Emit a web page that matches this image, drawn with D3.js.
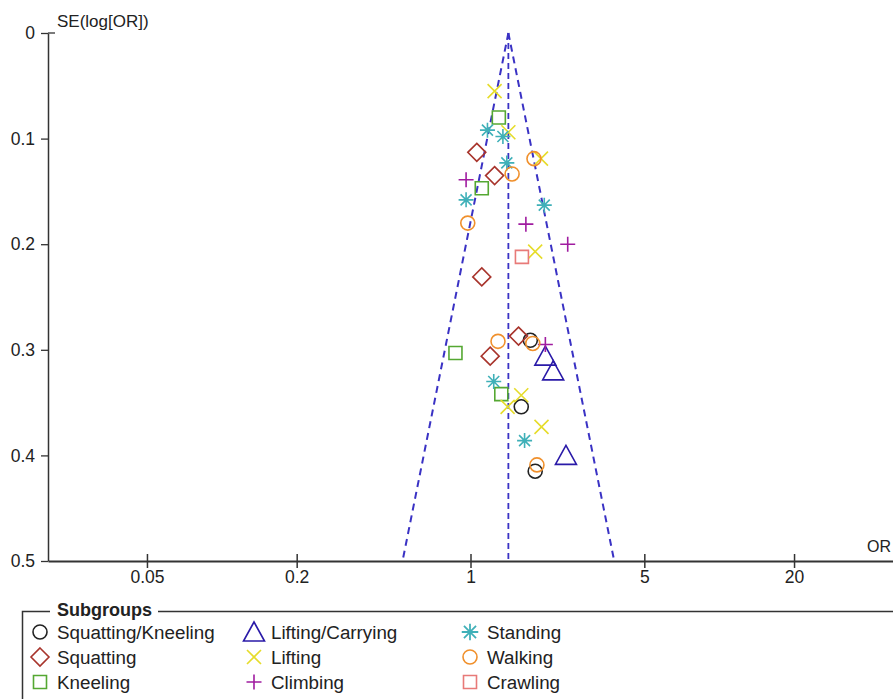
<!DOCTYPE html>
<html>
<head>
<meta charset="utf-8">
<script src="https://cdn.jsdelivr.net/npm/d3@7"></script>
<style>
  html, body { margin: 0; padding: 0; background: #fff; }
  svg { display: block; font-family: "Liberation Sans", Arial, sans-serif; }
</style>
</head>
<body>
<svg id="chart" width="893" height="699"></svg>
<script>
// ---------- data ----------
const xTicks = [0.05, 0.2, 1, 5, 20];
const yTicks = [0, 0.1, 0.2, 0.3, 0.4, 0.5];
const pooledOR = 1.42;

const subgroupNames = ["Squatting/Kneeling", "Squatting", "Kneeling",
                       "Lifting/Carrying", "Lifting", "Climbing",
                       "Standing", "Walking", "Crawling"];
const subgroupColors = ["#222222", "#a8342c", "#55a832",
                        "#2a1aa8", "#e6dc2a", "#a01ca0",
                        "#3fb0b8", "#f0902c", "#e87a78"];
const subgroupSymbols = ["circle", "diamond", "square",
                         "triangle", "x", "plus",
                         "asterisk", "circle", "square"];

// [OR, SE(log OR)]
const squattingKneeling = [[1.74, 0.291], [1.60, 0.354], [1.82, 0.415]];
const squatting = [[1.06, 0.113], [1.25, 0.135], [1.11, 0.231], [1.56, 0.287], [1.20, 0.306]];
const kneeling = [[1.30, 0.080], [1.11, 0.147], [0.87, 0.303], [1.33, 0.342]];
const liftingCarrying = [[2.00, 0.306], [2.15, 0.320], [2.42, 0.400]];
const lifting = [[1.25, 0.055], [1.42, 0.094], [1.92, 0.119], [1.82, 0.207],
                 [1.60, 0.343], [1.41, 0.354], [1.93, 0.373]];
const climbing = [[0.96, 0.139], [1.67, 0.181], [2.46, 0.200], [2.00, 0.295]];
const standing = [[1.17, 0.092], [1.35, 0.098], [1.40, 0.123], [0.96, 0.158],
                  [1.98, 0.163], [1.24, 0.330], [1.65, 0.386]];
const walking = [[1.80, 0.119], [1.47, 0.1335], [0.975, 0.180], [1.29, 0.292],
                 [1.78, 0.294], [1.85, 0.409]];
const crawling = [[1.61, 0.212]];

const seriesData = [squattingKneeling, squatting, kneeling, liftingCarrying,
                    lifting, climbing, standing, walking, crawling];

// ---------- layout ----------
const svg = d3.select("#chart");
const x = d3.scaleLog().domain([0.02, 50]).range([48, 893]);
const y = d3.scaleLinear().domain([0, 0.5]).range([33, 561]);

function symbolPath(type) {
  switch (type) {
    case "circle": return d3.arc()({innerRadius: 0, outerRadius: 7, startAngle: 0, endAngle: 2 * Math.PI});
    case "diamond": return "M0,-9L9,0L0,9L-9,0Z";
    case "square": return "M-6.5,-6.5H6.5V6.5H-6.5Z";
    case "triangle": return "M0,-10L10.5,9L-10.5,9Z";
    case "x": return "M-7,-7L7,7M-7,7L7,-7";
    case "plus": return "M-7.5,0H7.5M0,-7.5V7.5";
    case "asterisk": return "M-7.5,0H7.5M0,-7.5V7.5M-5.5,-5.5L5.5,5.5M-5.5,5.5L5.5,-5.5";
  }
}

// funnel lines
const z = 1.96;
const se0 = 0, se1 = 0.5;
const funnelColor = "#3a32c4";
const lineGen = d3.line().x(d => x(d[0])).y(d => y(d[1]));
const funnel = [
  [[pooledOR, se0], [pooledOR * Math.exp(-z * se1), se1]],
  [[pooledOR, se0], [pooledOR * Math.exp(z * se1), se1]],
  [[pooledOR, se0], [pooledOR, se1]]
];
svg.append("g").selectAll("path").data(funnel).join("path")
  .attr("d", lineGen)
  .attr("fill", "none")
  .attr("stroke", funnelColor)
  .attr("stroke-width", (d, i) => i < 2 ? 2 : 1.8)
  .attr("stroke-dasharray", (d, i) => i < 2 ? "7,5" : "6,4");

// points
seriesData.forEach((arr, gi) => {
  svg.append("g").selectAll("path").data(arr).join("path")
    .attr("transform", d => `translate(${x(d[0])},${y(d[1])})`)
    .attr("d", symbolPath(subgroupSymbols[gi]))
    .attr("fill", "none")
    .attr("stroke", subgroupColors[gi])
    .attr("stroke-width", 1.6);
});

// y axis
const yAxis = d3.axisLeft(y).tickValues(yTicks)
  .tickFormat(d => d === 0 ? "0" : d3.format(".1f")(d))
  .tickSizeInner(7).tickSizeOuter(0).tickPadding(6);
const gy = svg.append("g").attr("transform", "translate(48,0)").call(yAxis);
gy.selectAll("text").attr("font-size", 17.5).attr("fill", "#222")
  .attr("font-family", "Liberation Sans, Arial, sans-serif");
gy.select(".domain").attr("stroke", "#333").attr("stroke-width", 1.5);
gy.selectAll(".tick line").attr("stroke", "#333").attr("stroke-width", 1.3);
svg.append("line").attr("x1", 48).attr("x2", 55).attr("y1", y(0)).attr("y2", y(0))
  .attr("stroke", "#333").attr("stroke-width", 1.3);

// x axis
const xAxis = d3.axisBottom(x).tickValues(xTicks)
  .tickFormat(d => String(d))
  .tickSizeInner(7).tickSizeOuter(0).tickPadding(3);
const gx = svg.append("g").attr("transform", `translate(0,${y(0.5)})`).call(xAxis);
gx.selectAll("text").attr("font-size", 17.5).attr("fill", "#222")
  .attr("font-family", "Liberation Sans, Arial, sans-serif");
gx.select(".domain").attr("stroke", "#333").attr("stroke-width", 2.2);
gx.selectAll(".tick line").attr("y1", -7).attr("y2", 7)
  .attr("stroke", "#333").attr("stroke-width", 1.5);

// axis titles
svg.append("text").attr("x", 57).attr("y", 27).attr("font-size", 17)
  .attr("fill", "#222").text("SE(log[OR])");
svg.append("text").attr("x", 867).attr("y", 552).attr("font-size", 16)
  .attr("fill", "#222").text("OR");

// legend
svg.append("path")
  .attr("d", "M50,611.5H22.5V705M158,611.5H900")
  .attr("fill", "none").attr("stroke", "#333").attr("stroke-width", 1.5);
svg.append("text").attr("x", 57).attr("y", 616).attr("font-size", 18)
  .attr("font-weight", "bold").attr("fill", "#222").text("Subgroups");

const legendColX = [40, 254, 470];
const legendRowY = [632, 657, 682];
subgroupNames.forEach((name, i) => {
  const col = Math.floor(i / 3), row = i % 3;
  const g = svg.append("g")
    .attr("transform", `translate(${legendColX[col]},${legendRowY[row]})`);
  g.append("path").attr("d", symbolPath(subgroupSymbols[i]))
    .attr("transform", subgroupSymbols[i] === "asterisk" ? "scale(1.1)" : null)
    .attr("fill", "none").attr("stroke", subgroupColors[i]).attr("stroke-width", 1.6);
  g.append("text").attr("x", 17).attr("y", 6.5).attr("font-size", 18.8)
    .attr("fill", "#222").text(name);
});
</script>
</body>
</html>
